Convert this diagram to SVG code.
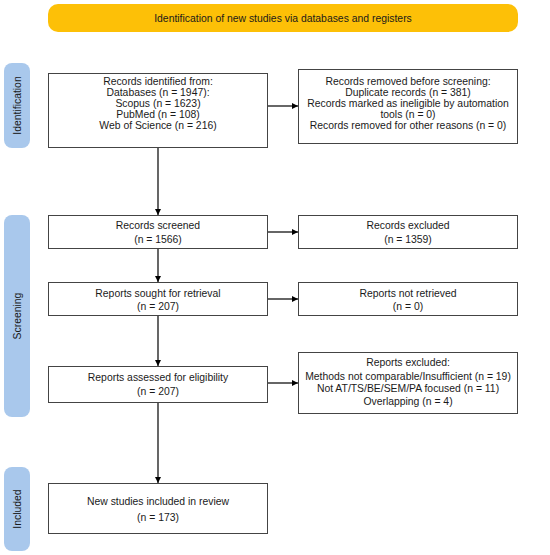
<svg xmlns="http://www.w3.org/2000/svg" width="550" height="555" viewBox="0 0 550 555">
<style>
text{font-family:"Liberation Sans",Arial,sans-serif;font-size:10.4px;fill:#1a1a1a;text-anchor:middle}
.box{fill:#fff;stroke:#444;stroke-width:1}
.side{fill:#a9c8ec}
.conn{stroke:#000;stroke-width:1.2;fill:none;marker-end:url(#ah)}
</style>
<defs>
<marker id="ah" viewBox="0 0 10 10" refX="10" refY="5" markerWidth="6" markerHeight="6" orient="auto" markerUnits="userSpaceOnUse"><path d="M0,0L10,5L0,10z" fill="#000"/></marker>
</defs>
<rect width="550" height="555" fill="#fff"/>
<g id="banner"><rect x="48" y="4" width="470" height="28" rx="10" fill="#fdc007"/><text x="283" y="21.5">Identification of new studies via databases and registers</text></g>
<g id="lbl-identification"><rect class="side" x="4" y="63" width="26" height="85" rx="8"/><text transform="translate(20.5,105.5) rotate(-90)">Identification</text></g>
<g id="lbl-screening"><rect class="side" x="4" y="215" width="26" height="202" rx="8"/><text transform="translate(20.5,316) rotate(-90)">Screening</text></g>
<g id="lbl-included"><rect class="side" x="4" y="467" width="26" height="84" rx="8"/><text transform="translate(20.5,509) rotate(-90)">Included</text></g>
<g id="connectors">
<line class="conn" x1="268" y1="106" x2="298" y2="106"/>
<line class="conn" x1="158" y1="148" x2="158" y2="215"/>
<line class="conn" x1="268" y1="232" x2="298" y2="232"/>
<line class="conn" x1="158" y1="249" x2="158" y2="282"/>
<line class="conn" x1="268" y1="299" x2="298" y2="299"/>
<line class="conn" x1="158" y1="316" x2="158" y2="366"/>
<line class="conn" x1="268" y1="383" x2="298" y2="383"/>
<line class="conn" x1="158" y1="403" x2="158" y2="483"/>
</g>
<g id="records-identified"><rect class="box" x="48.5" y="73.5" width="219" height="74"/>
<text x="158" y="84.5">Records identified from:</text><text x="158" y="95.5">Databases (n = 1947):</text><text x="158" y="106.5">Scopus (n = 1623)</text><text x="158" y="117.5">PubMed (n = 108)</text><text x="158" y="129">Web of Science (n = 216)</text></g>
<g id="records-removed"><rect class="box" x="298.5" y="69.5" width="219" height="74"/>
<text x="408" y="84.5">Records removed before screening:</text><text x="408" y="95.5">Duplicate records (n = 381)</text><text x="408" y="106.5">Records marked as ineligible by automation</text><text x="408" y="117.5">tools (n = 0)</text><text x="408" y="129">Records removed for other reasons (n = 0)</text></g>
<g id="records-screened"><rect class="box" x="48.5" y="215.5" width="219" height="33"/><text x="158" y="228.5">Records screened</text><text x="158" y="242.5">(n = 1566)</text></g>
<g id="records-excluded"><rect class="box" x="298.5" y="215.5" width="219" height="33"/><text x="408" y="228.5">Records excluded</text><text x="408" y="242.5">(n = 1359)</text></g>
<g id="reports-sought"><rect class="box" x="48.5" y="282.5" width="219" height="33"/><text x="158" y="296.5">Reports sought for retrieval</text><text x="158" y="309.5">(n = 207)</text></g>
<g id="reports-not-retrieved"><rect class="box" x="298.5" y="282.5" width="219" height="33"/><text x="408" y="296.5">Reports not retrieved</text><text x="408" y="309.5">(n = 0)</text></g>
<g id="reports-assessed"><rect class="box" x="48.5" y="366.5" width="219" height="36"/><text x="158" y="380.5">Reports assessed for eligibility</text><text x="158" y="394.5">(n = 207)</text></g>
<g id="reports-excluded"><rect class="box" x="298.5" y="352.5" width="219" height="61"/>
<text x="408" y="365.5">Reports excluded:</text><text x="408" y="380">Methods not comparable/Insufficient (n = 19)</text><text x="408" y="392">Not AT/TS/BE/SEM/PA focused (n = 11)</text><text x="408" y="405">Overlapping (n = 4)</text></g>
<g id="new-studies"><rect class="box" x="48.5" y="483.5" width="219" height="50"/><text x="158" y="504.5">New studies included in review</text><text x="158" y="520.5">(n = 173)</text></g>
</svg>
